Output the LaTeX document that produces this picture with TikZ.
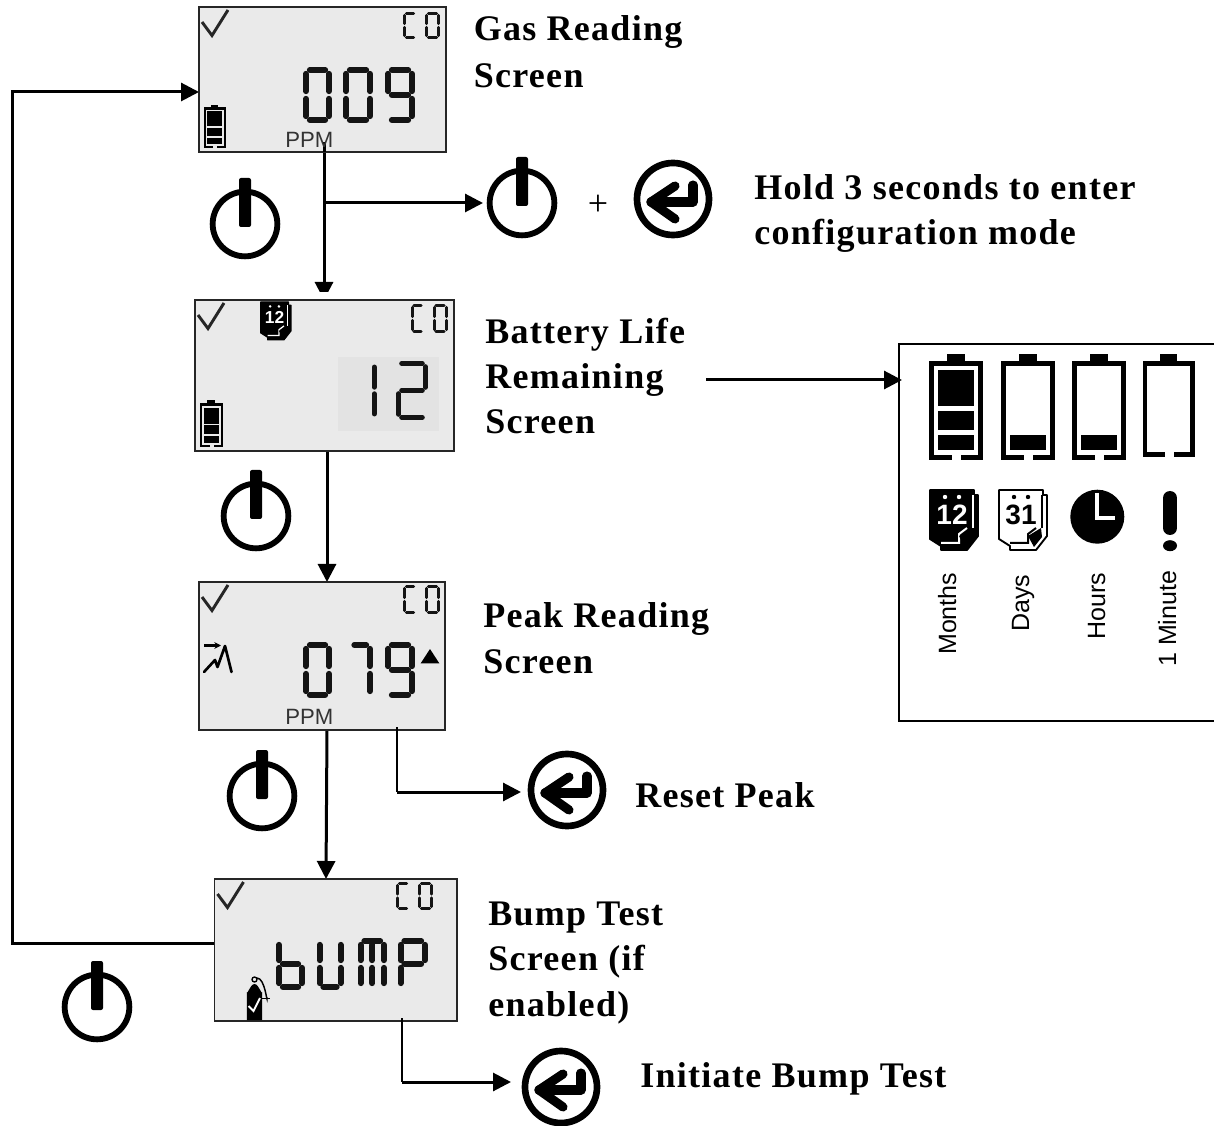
\documentclass[tikz,border=0pt]{standalone}
\usepackage{fontspec}
\setmainfont{Liberation Serif}
\newfontfamily\lsans{Liberation Sans}
\newfontfamily\labfont[LetterSpace=3.6]{Liberation Serif}
\usetikzlibrary{arrows.meta,calc}
\tikzset{
  lcdbox/.style={draw=black!85,fill=lcdgray,line width=1.1pt,rectangle,inner sep=0pt,outer sep=0pt,anchor=north west},
  arr/.style={line width=2.25pt,-{Triangle[length=13.5pt,width=13.5pt]}},
  wire/.style={line width=1.8pt},
  pwrring/.style={circle,draw=black,line width=4.4pt,inner sep=0pt,outer sep=0pt,minimum size=48.5pt},
  pwrbar/.style={fill=black,rounded corners=1.5pt},
  entring/.style={circle,draw=black,line width=5pt,inner sep=0pt,outer sep=0pt,minimum size=54pt},
  entarrow/.style={line width=6.8pt,line cap=round,line join=round},
  chk/.style={line width=2.2pt,black!85,line join=miter},
  label/.style={align=left,anchor=base west,inner sep=0pt,font=\labfont\bfseries\fontsize{27}{34}\selectfont},
  ppm/.style={anchor=base west,inner sep=0pt,text=black!80,font=\lsans\fontsize{16.6}{18}\selectfont},
  rotlabel/.style={rotate=90,anchor=base west,inner sep=0pt,font=\lsans\fontsize{18.75}{20}\selectfont},
}
\definecolor{lcdgray}{HTML}{EAEAEA}
\definecolor{lcdpatch}{HTML}{E3E3E3}
% seven-segment glyphs
\newcommand\lcdsega{\draw (\lg,0)--({\lw-\lg},0);}
\newcommand\lcdsegb{\draw (\lw,\lg)--(\lw,{\lh/2-\lg});}
\newcommand\lcdsegc{\draw (\lw,{\lh/2+\lg})--(\lw,{\lh-\lg});}
\newcommand\lcdsegd{\draw (\lg,\lh)--({\lw-\lg},\lh);}
\newcommand\lcdsege{\draw (0,{\lh/2+\lg})--(0,{\lh-\lg});}
\newcommand\lcdsegf{\draw (0,\lg)--(0,{\lh/2-\lg});}
\newcommand\lcdsegg{\draw (\lg,{\lh/2})--({\lw-\lg},{\lh/2});}
\newcommand\lcdsegh{\draw ({\lw/2},\lg)--({\lw/2},{\lh/2-\lg});}
\newcommand\lcdsegi{\draw ({\lw/2},{\lh/2+\lg})--({\lw/2},{\lh-\lg});}
% x1 y1 x2 y2 thickness segments
\newcommand\lcdglyph[6]{%
  \pgfmathsetmacro\lw{(#3)-(#1)-#5}\pgfmathsetmacro\lh{(#4)-(#2)-#5}\pgfmathsetmacro\lg{#5*0.64}%
  \begin{scope}[shift={({(#1)+#5/2},{(#2)+#5/2})},line width=#5*0.75pt,line cap=round,black!92]
    \foreach \s in {#6}{\csname lcdseg\s\endcsname}
  \end{scope}}
\newcommand\lcdCO[3]{% x y height
  \lcdglyph{#1}{#2}{#1+14}{#2+#3}{3}{a,d,e,f}
  \lcdglyph{#1+22}{#2}{#1+37}{#2+#3}{3}{a,b,c,d,e,f}}
\newcommand\lcdscreen[5]{%
  \node[lcdbox,minimum width={(#4-#2)*0.75pt},minimum height={(#5-#3)*0.75pt}] (#1) at (#2,#3) {};
  \draw[chk] ($(#1.north west)+(3,15)$) -- ($(#1.north west)+(13,28.5)$) -- ($(#1.north west)+(29,3)$);}
% battery: x y scale level
\newcommand\battery[4]{%
  \begin{scope}[shift={(#1,#2)},scale=#3]
    \fill (0,0) rectangle (54,5);
    \fill (18,-7) rectangle (36,0);
    \fill (0,0) rectangle (5,99);
    \fill (49,0) rectangle (54,99);
    \fill (0,94) rectangle (23,99);
    \fill (32,94) rectangle (54,99);
    \ifnum#4>0 \fill (9.5,74.5) rectangle (45,89.5);\fi
    \ifnum#4>1 \fill (9.5,50) rectangle (45,69.5);
               \fill (9.5,9.5) rectangle (45,45.5);\fi
  \end{scope}}
% calendar: x y scale fontsize bg fg text
\newcommand\calicon[7]{%
  \begin{scope}[shift={(#1,#2)},scale=#3]
    \filldraw[fill=#5,draw=black,line width=#3*1.4pt,line join=round] (0,0) -- (44,0) -- (44,5) -- (48,5) -- (48,46) -- (37,60) -- (11,60) -- (11,56) -- (0,49) -- cycle;
    \draw[#6,line width=#3*1.5pt] (43,5) -- (43,38);
    \draw[#6,line width=#3*1.5pt] (11,53) -- (29,53) -- (29,44) -- (37,38);
    \fill[#6] (15,7) circle (2.2);
    \fill[#6] (29,7) circle (2.2);
    \fill[black] (29,46) -- (42,38) -- (43,47) -- (35,57) -- cycle;
    \node[inner sep=0pt,text=#6,font=\lsans\bfseries\fontsize{#4}{#4}\selectfont] at (22,25) {#7};
  \end{scope}}
\newcommand\powericon[2]{%
  \node[pwrring] (#1) at (#2) {};
  \path[pwrbar] ($(#1.center)+(-6,-46)$) rectangle ($(#1.center)+(6,3)$);}
\newcommand\entericon[2]{%
  \node[entring] (#1) at (#2) {};
  \draw[entarrow] ($(#1.center)+(20,-14)$) -- ($(#1.center)+(20,3)$) -- ($(#1.center)+(-22,3)$);
  \draw[entarrow] ($(#1.center)+(2,-13)$) -- ($(#1.center)+(-22,3)$) -- ($(#1.center)+(2,20)$);}
\begin{document}
\begin{tikzpicture}[x=0.75pt,y=-0.75pt]
\useasboundingbox (0,0) rectangle (1214,1126);
% anchor points for connectors
\coordinate (s2in) at (324,300);
\coordinate (s3in) at (327,582);
\coordinate (s4in) at (326,879);
\coordinate (junction) at (324,203);
\coordinate (p2in) at (483,203);
\coordinate (loopstart) at (215,943);
\coordinate (loopturn) at (12,92);
\coordinate (s1in) at (199,92);
\coordinate (peakout) at (397,727);
\coordinate (peakturn) at (397,792);
\coordinate (e2in) at (521,792);
\coordinate (bumpout) at (402,1018);
\coordinate (bumpturn) at (402,1082);
\coordinate (e3in) at (511,1082);
\coordinate (battout) at (706,380);
\coordinate (battin) at (902,380);
\coordinate (s1out) at (324,152);
\coordinate (s2out) at (327,451);
\coordinate (s3out) at (327,730);
% connectors under the screens
\draw[arr] (s1out) -- (s2in);
\fill[white] (310,292) rectangle (338,299);
\draw[arr] (junction) -- (p2in);
\draw[arr] (s2out) -- (s3in);
\draw[arr] (s3out) -- (s4in);
\draw[arr] (loopstart) -| (loopturn) -- (s1in);
% screens
\lcdscreen{s1}{199}{7}{446}{152}
\lcdscreen{s2}{195}{300}{454}{451}
\lcdscreen{s3}{199}{582}{445}{730}
\lcdscreen{s4}{214.5}{879}{457}{1021}
\draw[line width=2.25pt] (s1out) -- (324,142);
% screen 1
\lcdCO{403}{12}{27}
\lcdglyph{303}{67}{332}{123}{6}{a,b,c,d,e,f}
\lcdglyph{343}{67}{373}{123}{6}{a,b,c,d,e,f}
\lcdglyph{385}{67}{415}{123}{6}{a,b,c,d,f,g}
\battery{203.5}{107.5}{0.41}{2}
\node[ppm] (ppm1) at (285,147.5) {PPM};
% screen 2
\lcdCO{410.5}{304}{29}
\fill[lcdpatch] (338,357) rectangle (439,431);
\lcdglyph{371}{361}{377}{420}{5.5}{b,c}
\lcdglyph{396}{361}{428}{420}{5}{a,b,g,e,d}
\battery{199.5}{403.5}{0.44}{2}
\calicon{260.7}{302}{0.63}{13}{black}{white}{12}
% screen 3
\lcdCO{403}{585}{29}
\lcdglyph{303}{642}{332}{698}{6}{a,b,c,d,e,f}
\lcdglyph{347.5}{642}{373}{698}{6}{a,b,c}
\lcdglyph{385}{642}{415}{698}{6}{a,b,c,d,f,g}
\draw[line width=1.6pt,-{Stealth[length=5pt,width=5pt]}] (204,645.5) -- (221,645.5);
\draw[line width=2pt,line join=round,line cap=round] (204,672) -- (215,660) -- (217.5,667) -- (225,646) -- (231.5,672);
\fill (420.7,663.3) -- (430,649) -- (439.3,663.3) -- cycle;
\node[ppm] (ppm3) at (285,724) {PPM};
% screen 4
\lcdCO{396}{882}{28}
\lcdglyph{276}{938}{305}{990}{6}{f,e,g,c,d}
\lcdglyph{316.5}{938}{343.5}{990}{6}{f,e,d,c,b}
\lcdglyph{357.5}{938}{387}{990}{6}{a,f,e,b,c,h,i}
\lcdglyph{397.5}{938}{428}{990}{6}{a,f,e,b,g}
\fill (246.8,1020) -- (246.8,992) to[out=-90,in=180] (254.5,984) to[out=0,in=-90] (262.2,992) -- (262.2,1020) -- cycle;
\draw[line width=1pt] (254.5,979.5) circle (2.5);
\draw[line width=1.1pt] (257,978) to[out=0,in=-90] (267,997);
\draw[line width=1.3pt] (261,998.5) -- (270,998.5);
\draw[white,line width=1.4pt] (248.5,1006) -- (253.5,1011) -- (260,998);
% connectors to the sides
\draw[wire] (peakout) -- (peakturn);
\draw[arr] (peakturn) -- (e2in);
\draw[wire] (bumpout) -- (bumpturn);
\draw[arr] (bumpturn) -- (e3in);
% panel
\node[rectangle,inner sep=0pt,outer sep=0pt,anchor=north west,minimum width={315*0.75pt},minimum height={377*0.75pt}] (panel) at (899,344) {};
\draw[line width=1.9pt] (panel.north east) -- (panel.north west) -- (panel.south west) -- (panel.south east);
\draw[arr] (battout) -- (battin);
\battery{928.5}{360.7}{1}{2}
\battery{1000.5}{360.7}{1}{1}
\battery{1071.5}{360.7}{1}{1}
\battery{1142.5}{360.7}{0.97}{0}
\calicon{930}{490}{1}{21}{black}{white}{12}
\calicon{999}{490}{1}{21}{white}{black}{31}
\node[circle,fill=black,inner sep=0pt,minimum size={54*0.75pt}] (clockface) at (1097.3,516.7) {};
\draw[white,line width=3pt] (1097.3,493) -- (1097.3,518.5) -- (1115,518.5);
\draw[line width=10.5pt,line cap=round] (1170,498) -- (1170,528);
\fill (1170,545.7) ellipse (7 and 5.5);
\node[rotlabel] (lm) at (956,655) {Months};
\node[rotlabel] (ld) at (1029,632) {Days};
\node[rotlabel] (lh) at (1105,640) {Hours};
\node[rotlabel] (l1) at (1176,667) {1 Minute};
% button icons
\powericon{p1}{245,224}
\powericon{p2}{522,203}
\powericon{p3}{256,516}
\powericon{p4}{262,796}
\powericon{p5}{97,1007}
\entericon{e1}{673,199}
\entericon{e2}{567,790}
\entericon{e3}{561,1087}
\node[inner sep=0pt,font=\fontsize{27}{27}\selectfont] (plus) at (598,205) {+};
% labels
\node[label] (t1) at (473.5,88) {Gas Reading\\[1.5pt]Screen};
\node[label] (t2) at (754,245) {Hold 3 seconds to enter\\configuration mode};
\node[label] (t3) at (485,434) {Battery Life\\Remaining\\Screen};
\node[label] (t4) at (483,673) {Peak Reading\\Screen};
\node[label] (t5) at (635,807) {Reset Peak};
\node[label] (t6) at (488,1016) {Bump Test\\Screen (if\\enabled)};
\node[label] (t7) at (640,1087) {Initiate Bump Test};
\end{tikzpicture}
\end{document}
